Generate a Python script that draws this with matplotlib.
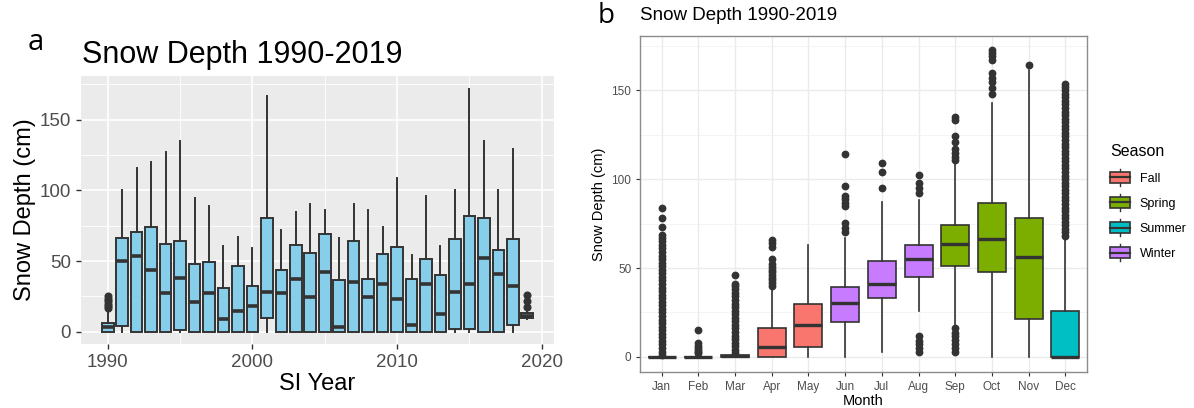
import matplotlib
matplotlib.use("Agg")
import matplotlib.pyplot as plt
from matplotlib.ticker import MultipleLocator
from matplotlib.patches import Rectangle
from matplotlib.lines import Line2D
from matplotlib.legend_handler import HandlerBase

plt.rcParams["font.family"] = ["Liberation Sans", "DejaVu Sans"]

# ---- panel a: yearly snow depth (cm) ----
YEARS = [1990, 1991, 1992, 1993, 1994, 1995, 1996, 1997, 1998, 1999,
         2000, 2001, 2002, 2003, 2004, 2005, 2006, 2007, 2008, 2009,
         2010, 2011, 2012, 2013, 2014, 2015, 2016, 2017, 2018, 2019]
yr_lo = [0, 0, 0, 0, 0, 0, 0, 0, 0, 0, 0, 0, 0, 0, 0,
         0, 0, 0, 0, 0, 0, 0, 0, 0, 0, 0, 0, 0, 0, 9]
yr_q1 = [0, 4, 0, 0, 0, 1, 0, 0, 0, 0, 0, 9.9, 0, 0, 0,
         0, 0, 0, 0, 0, 0, 0, 0, 0, 2, 2, 0, 0, 4.5, 9.7]
yr_med = [3.3, 50.4, 53.4, 44, 27.3, 38.4, 21, 27.3, 9.2, 14.4, 18.1, 28.3, 27.3, 37.4, 24.7,
          42.1, 3.5, 35.1, 24.5, 34.1, 23.3, 4.5, 34.1, 12.7, 28, 34.1, 52.5, 41.2, 32.7, 11]
yr_q3 = [6.4, 66.2, 70.4, 74.2, 62.2, 64.3, 48, 49.2, 31, 46.4, 32.3, 80.3, 44, 61.2, 55.8,
         69.2, 36.3, 64.3, 37.7, 55.3, 60.3, 37.4, 51.3, 40, 65.5, 82.2, 80.3, 57.7, 65.5, 13.2]
yr_hi = [15, 100, 116, 120, 127, 135, 95, 89, 61, 67, 59.3, 167, 72.3, 85, 90.2,
         86, 66.2, 90.2, 86.2, 74, 108.8, 54.6, 95.8, 61, 100, 172, 135, 100, 129.5, 14]
yr_fliers = {1990: [17, 18.5, 20, 21.5, 23, 25.5], 2019: [17.5, 21.5, 26]}

# ---- panel b: monthly snow depth (cm) ----
MONTHS = ["Jan", "Feb", "Mar", "Apr", "May", "Jun", "Jul", "Aug", "Sep", "Oct", "Nov", "Dec"]
SEASON = ["Summer", "Summer", "Summer", "Fall", "Fall", "Winter", "Winter", "Winter",
          "Spring", "Spring", "Spring", "Summer"]
m_lo = [0, 0, 0, 0, 0, 0, 3, 26, 18, 0, 0, 0]
m_q1 = [0, 0, 0, 0, 5.8, 19.9, 33, 45.1, 51.1, 47.9, 21.2, 0]
m_med = [0, 0, 0.5, 5.8, 18, 30.1, 40.8, 55, 63.3, 66.3, 56.2, 0]
m_q3 = [0, 0, 1, 16.1, 29.8, 39.1, 53.9, 62.9, 74, 86.3, 77.9, 26]
m_hi = [0, 0, 1, 39, 62.9, 66.7, 87, 88.2, 108.4, 143, 161.2, 67.6]
m_fliers = [
    [1, 3, 5, 7, 9, 11, 13, 15, 17, 19, 21, 23, 25, 27, 29, 31, 33, 35, 37, 39, 41, 43,
     45, 47, 49, 51, 53, 55, 57, 59, 61, 63, 65, 67, 68.5, 73, 78, 84],
    [2, 3, 4, 5, 6, 8, 15],
    [2, 4, 6, 8, 10, 12, 14, 16, 18, 20, 22, 24, 26, 28, 30, 32, 34, 36, 38, 40, 41, 46],
    [40, 41.5, 43, 44.5, 46, 47.5, 49, 50.5, 52.5, 55, 62, 64, 65.5],
    [],
    [70.4, 72.3, 75.5, 84.8, 86.7, 88.6, 90.4, 96.3, 114],
    [94.8, 104, 108.8],
    [3, 5, 7, 9, 11.8, 92.3, 94.8, 97.6, 102.2],
    [3, 5, 7, 9.5, 11.5, 13.5, 16, 110.6, 112.5, 114.4, 117, 121, 124, 133, 135],
    [147.8, 151.5, 154.7, 157.1, 159.4, 166.9, 169, 171, 172.8],
    [164.4],
    [68, 70, 72, 74, 76, 78, 80, 82, 84, 86, 88, 90, 92, 94, 96, 98, 100, 102, 104, 106,
     108, 110, 112, 114, 116, 118, 120, 122, 124, 126, 128, 130, 132, 134, 136, 138, 140,
     142, 144, 146, 148, 150, 152, 153.4],
]
SEASON_COLORS = {"Fall": "#F8766D", "Spring": "#7CAE00", "Summer": "#00BFC4", "Winter": "#C77CFF"}

EDGE = "#333333"
TICKTXT = "#4D4D4D"


def box_kw(ms, lw, mlw):
    return dict(patch_artist=True, showcaps=False,
                boxprops=dict(edgecolor=EDGE, linewidth=lw),
                medianprops=dict(color=EDGE, linewidth=mlw, solid_capstyle="butt"),
                whiskerprops=dict(color=EDGE, linewidth=lw),
                flierprops=dict(marker="o", markerfacecolor=EDGE, markeredgecolor=EDGE,
                                markersize=ms, linestyle="none"))


class HandlerBox(HandlerBase):
    # little boxplot glyph like ggplot's legend keys
    def create_artists(self, legend, orig_handle, xdescent, ydescent, width, height,
                       fontsize, trans):
        x0, y0 = -xdescent, -ydescent
        cx = x0 + width / 2
        arts = [Line2D([cx, cx], [y0 - 0.25 * height, y0 + 1.25 * height], color=EDGE, lw=1.0,
                       transform=trans),
                Rectangle((x0, y0), width, height, facecolor=orig_handle.get_facecolor(),
                          edgecolor=EDGE, lw=1.2, transform=trans),
                Line2D([x0, x0 + width], [y0 + height / 2] * 2, color=EDGE, lw=1.6,
                       transform=trans)]
        return arts


fig = plt.figure(figsize=(11.94, 4.08), dpi=100)

# ---------------- panel a ----------------
ax = fig.add_axes([0.0678, 0.157, 0.3962, 0.6567])
stats = []
for i, y in enumerate(YEARS):
    stats.append(dict(whislo=yr_lo[i], q1=yr_q1[i], med=yr_med[i], q3=yr_q3[i],
                      whishi=yr_hi[i], fliers=yr_fliers.get(y, [])))
res = ax.bxp(stats, positions=YEARS, widths=0.8, manage_ticks=False, **box_kw(4.8, 1.4, 2.6))
for b in res["boxes"]:
    b.set_facecolor("#87CEEB")
ax.set_facecolor("#EBEBEB")
for s in ax.spines.values():
    s.set_visible(False)
ax.set_xlim(1988.15, 2020.85)
ax.set_ylim(-8.6, 181)
ax.xaxis.set_major_locator(MultipleLocator(10))
ax.xaxis.set_minor_locator(MultipleLocator(5))
ax.yaxis.set_major_locator(MultipleLocator(50))
ax.yaxis.set_minor_locator(MultipleLocator(25))
ax.grid(True, which="major", color="white", lw=1.2)
ax.grid(True, which="minor", color="white", lw=0.6)
ax.set_axisbelow(True)
ax.tick_params(which="major", labelsize=13.5, labelcolor=TICKTXT, color=EDGE, length=3.5, width=1)
ax.tick_params(which="minor", length=0)
ax.set_xlabel("SI Year", fontsize=17, labelpad=2)
ax.set_ylabel("Snow Depth (cm)", fontsize=17, labelpad=3)
fig.text(82 / 1194, 1 - 63 / 408, "Snow Depth 1990-2019", fontsize=22, va="baseline")
fig.text(28 / 1194, 1 - 42 / 408, "a", fontsize=21, va="center", family=["Open Sans", "DejaVu Sans"])

# ---------------- panel b ----------------
bx = fig.add_axes([0.5363, 0.089, 0.3738, 0.8229])
pos = list(range(1, 13))
stats = []
for i in range(12):
    stats.append(dict(whislo=m_lo[i], q1=m_q1[i], med=m_med[i], q3=m_q3[i],
                      whishi=m_hi[i], fliers=m_fliers[i]))
res = bx.bxp(stats, positions=pos, widths=0.76, manage_ticks=False, **box_kw(4.6, 1.2, 2.4))
for b, s in zip(res["boxes"], SEASON):
    b.set_facecolor(SEASON_COLORS[s])
bx.set_xlim(0.42, 12.58)
bx.set_ylim(-8.3, 180.5)
bx.set_xticks(pos)
bx.set_xticklabels(MONTHS)
bx.yaxis.set_major_locator(MultipleLocator(50))
bx.yaxis.set_minor_locator(MultipleLocator(25))
bx.grid(True, which="major", color="#EBEBEB", lw=1.0)
bx.grid(True, which="minor", axis="y", color="#F2F2F2", lw=0.6)
bx.set_axisbelow(True)
for s in bx.spines.values():
    s.set_color("#8C8C8C")
    s.set_linewidth(1.0)
bx.tick_params(which="major", labelsize=8.5, labelcolor=TICKTXT, color=EDGE, length=3, width=0.8)
bx.tick_params(which="minor", length=0)
bx.set_xlabel("Month", fontsize=10.5, labelpad=1)
bx.set_ylabel("Snow Depth (cm)", fontsize=10.5, labelpad=4)
fig.text(640 / 1194, 1 - 16 / 408, "Snow Depth 1990-2019", fontsize=13.5, va="center")
fig.text(598 / 1194, 1 - 16 / 408, "b", fontsize=20, va="center", family=["Open Sans", "DejaVu Sans"])

handles = [Rectangle((0, 0), 1, 1, facecolor=SEASON_COLORS[k]) for k in SEASON_COLORS]
leg = fig.legend(handles, list(SEASON_COLORS), title="Season", loc="upper left",
                 bbox_to_anchor=(1099 / 1194, 1 - 133 / 408), frameon=False,
                 fontsize=9, title_fontsize=11.5, handlelength=1.6, handleheight=1.0,
                 labelspacing=0.98, handletextpad=0.75,
                 handler_map={Rectangle: HandlerBox()})
leg._legend_box.align = "left"
leg._legend_box.sep = 9

fig.savefig("out.png", dpi=100)
